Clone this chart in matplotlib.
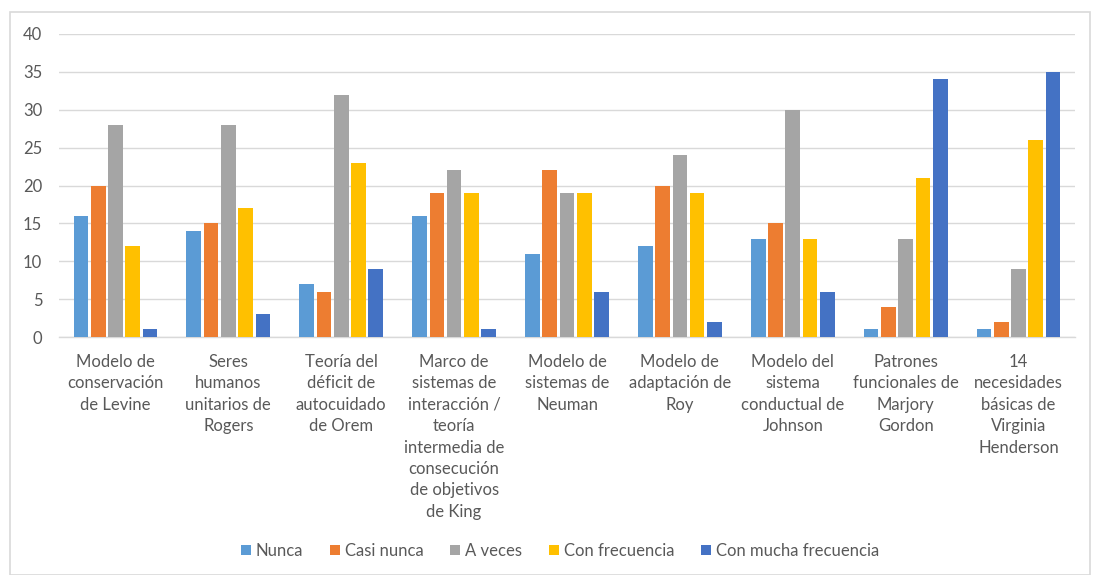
import matplotlib
matplotlib.use("Agg")
import matplotlib.pyplot as plt
import numpy as np
from matplotlib.patches import Rectangle

categories = [
    "Modelo de\nconservación\nde Levine",
    "Seres\nhumanos\nunitarios de\nRogers",
    "Teoría del\ndéficit de\nautocuidado\nde Orem",
    "Marco de\nsistemas de\ninteracción /\nteoría\nintermedia de\nconsecución\nde objetivos\nde King",
    "Modelo de\nsistemas de\nNeuman",
    "Modelo de\nadaptación de\nRoy",
    "Modelo del\nsistema\nconductual de\nJohnson",
    "Patrones\nfuncionales de\nMarjory\nGordon",
    "14\nnecesidades\nbásicas de\nVirginia\nHenderson",
]
series_names = ["Nunca", "Casi nunca", "A veces", "Con frecuencia", "Con mucha frecuencia"]
nunca = [16, 14, 7, 16, 11, 12, 13, 1, 1]
casi_nunca = [20, 15, 6, 19, 22, 20, 15, 4, 2]
a_veces = [28, 28, 32, 22, 19, 24, 30, 13, 9]
con_frecuencia = [12, 17, 23, 19, 19, 19, 13, 21, 26]
con_mucha = [1, 3, 9, 1, 6, 2, 6, 34, 35]
yticks = [0, 5, 10, 15, 20, 25, 30, 35, 40]

colors = ["#5B9BD5", "#ED7D31", "#A5A5A5", "#FFC000", "#4472C4"]
text_color = "#595959"
grid_color = "#D9D9D9"

plt.rcParams['font.family'] = ['Lato', 'DejaVu Sans']

fig = plt.figure(figsize=(10.94, 5.75), dpi=100)
fig.patches.append(Rectangle((10/1094, 0), 1080/1094, 1 - 12/575, transform=fig.transFigure,
                             fill=False, edgecolor=grid_color, linewidth=1.2))
ax = fig.add_axes([59/1094, 1 - 337/575, (1075 - 59)/1094, (337 - 34)/575])

data = [nunca, casi_nunca, a_veces, con_frecuencia, con_mucha]
x = np.arange(len(categories))
slot = 0.153
width = 0.13
for i, (vals, name, c) in enumerate(zip(data, series_names, colors)):
    ax.bar(x + (i - 2) * slot, vals, width, color=c, label=name, zorder=3)

ax.set_xlim(-0.5, len(categories) - 0.5)
ax.set_ylim(0, 40)
ax.set_yticks(yticks)
ax.set_yticklabels([str(v) for v in yticks], fontsize=12, color=text_color)
ax.set_xticks(x)
ax.set_xticklabels(categories, fontsize=12, color=text_color, linespacing=1.42, va='top')
ax.tick_params(axis='both', length=0)
ax.tick_params(axis='x', pad=12)
ax.tick_params(axis='y', pad=12)
ax.grid(axis='y', color=grid_color, linewidth=1, zorder=0)
for s in ['top', 'right', 'left']:
    ax.spines[s].set_visible(False)
ax.spines['bottom'].set_color(grid_color)
ax.spines['bottom'].set_linewidth(1)

fig.legend(loc='center', bbox_to_anchor=(560/1094, 1 - 551/575), ncol=5, frameon=False,
           fontsize=12, labelcolor=text_color, handlelength=0.6, handleheight=0.6,
           handletextpad=0.3, columnspacing=1.6)

fig.savefig("out.png", dpi=100)
